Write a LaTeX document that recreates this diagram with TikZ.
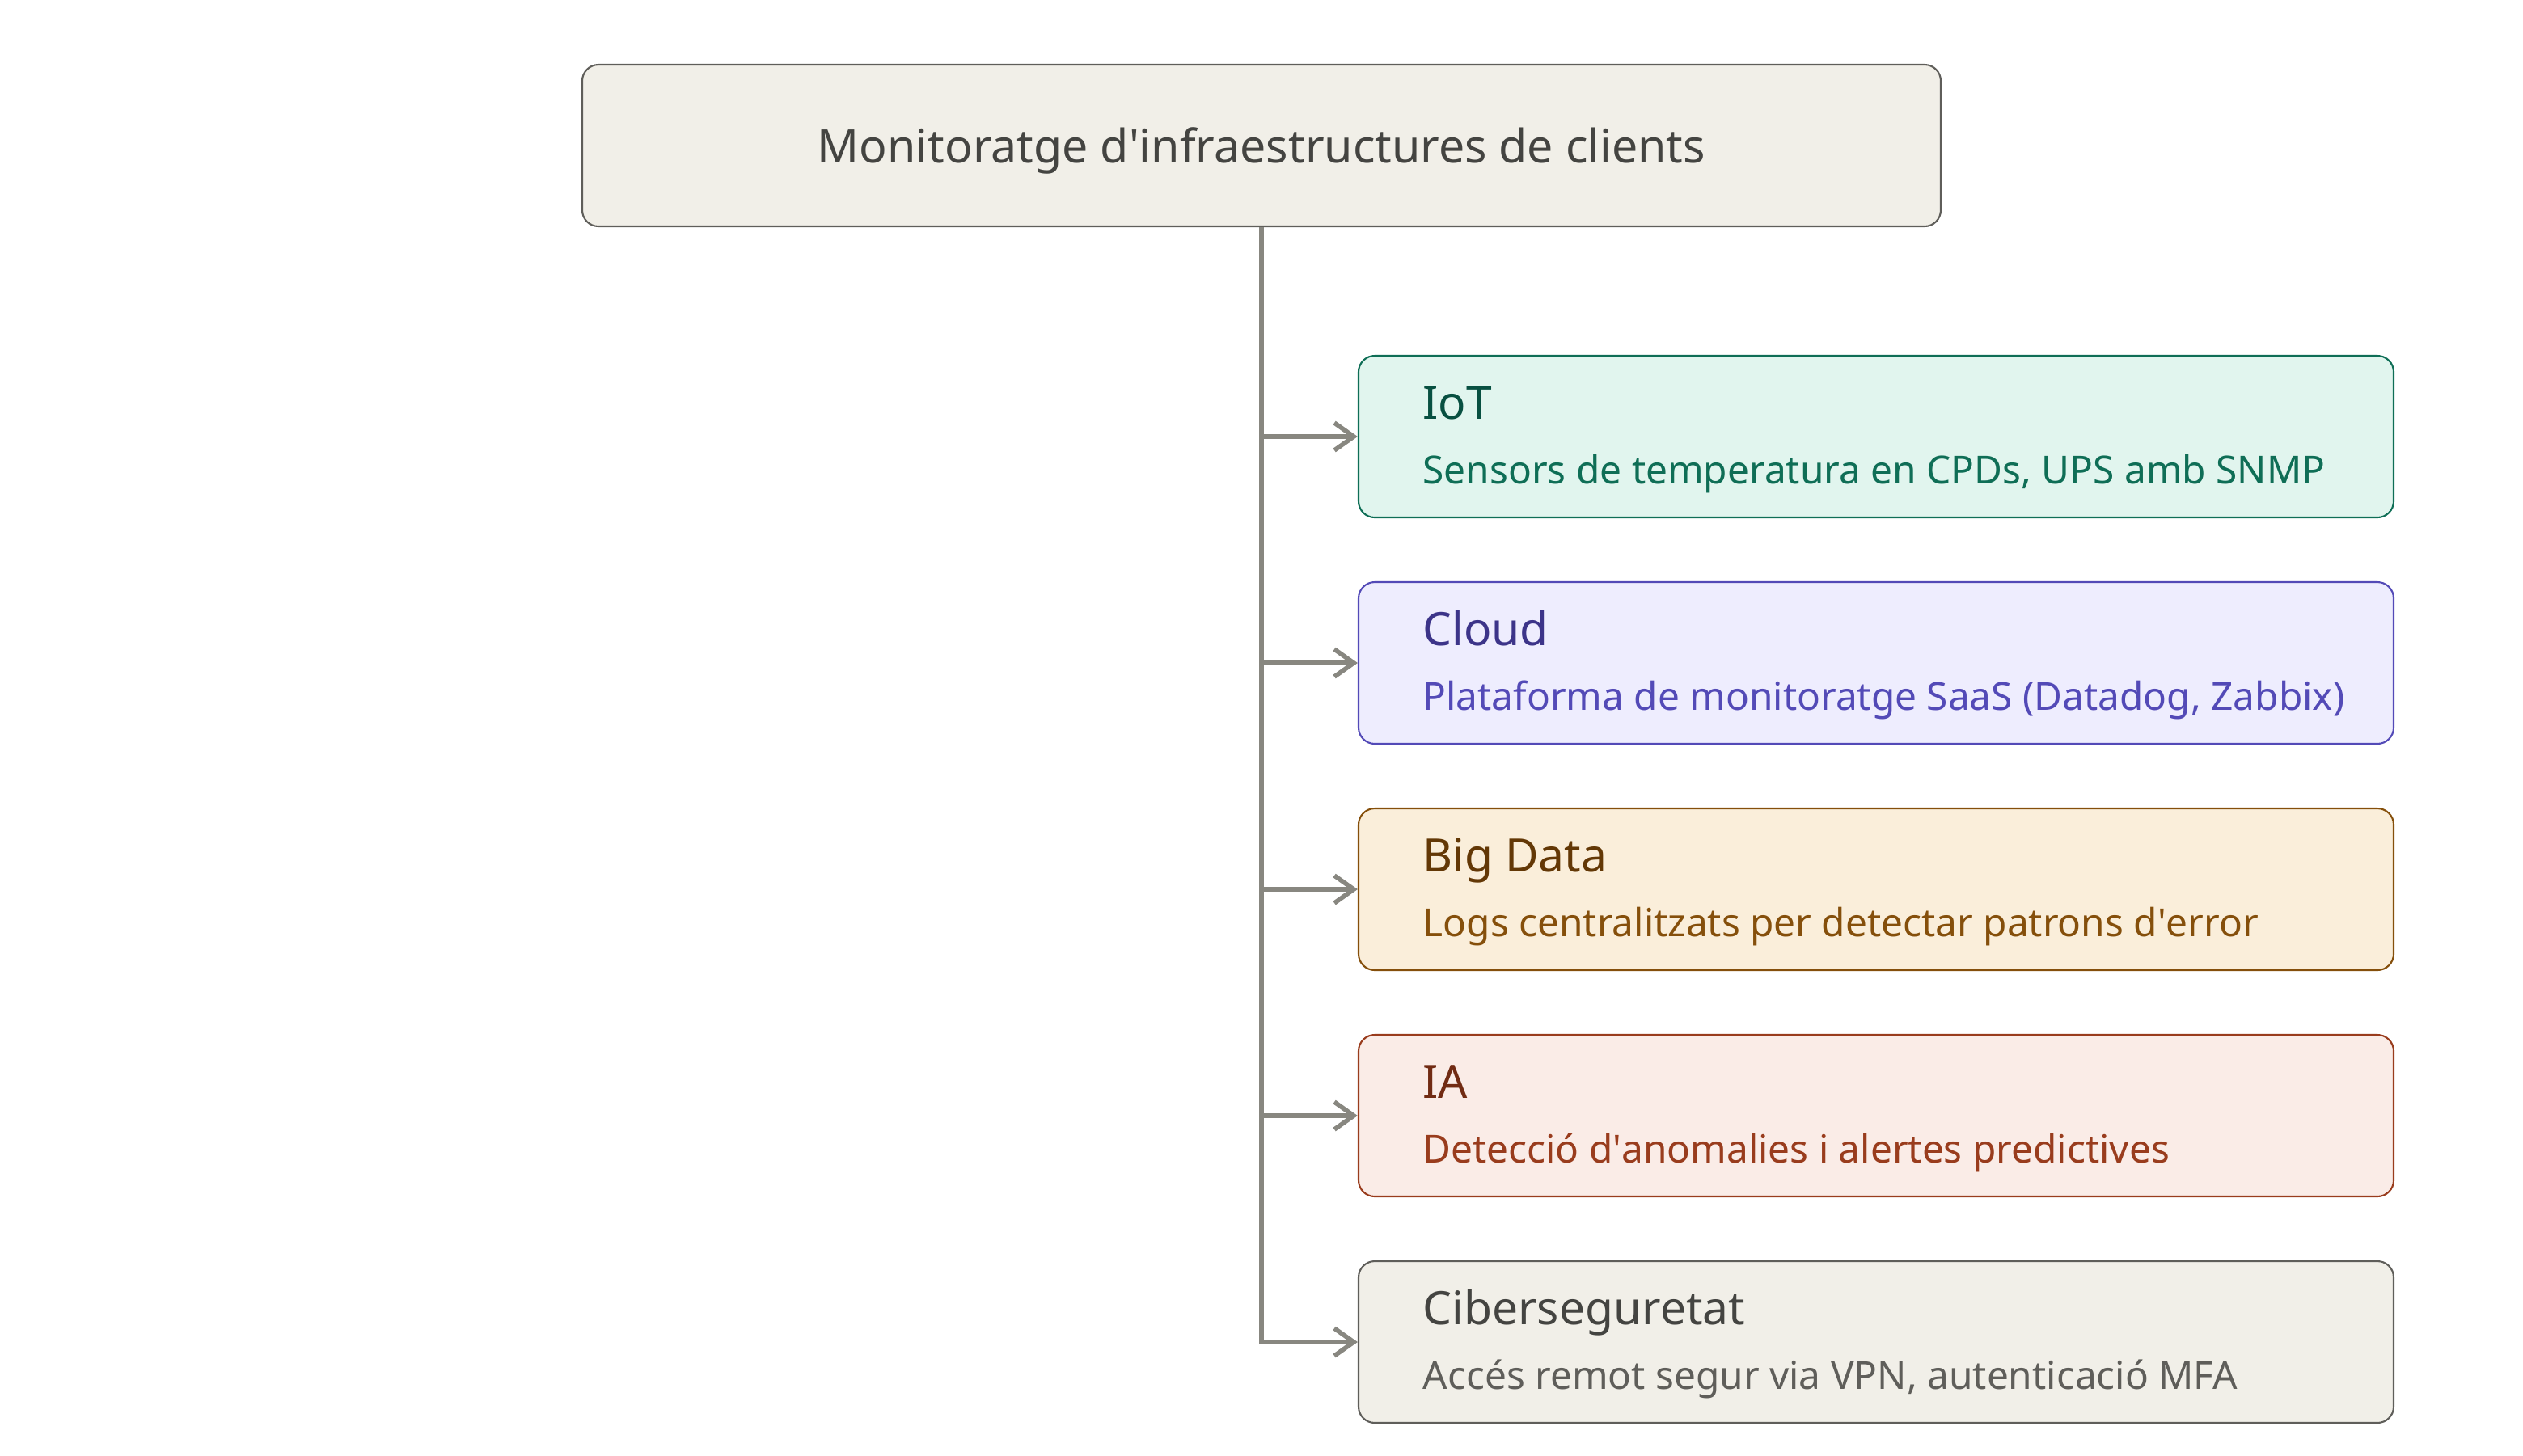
\documentclass[tikz,border=0pt]{standalone}
\usepackage{fontspec}
\setmainfont{Noto Sans}
\usepackage{tikz}
\usetikzlibrary{arrows.meta,positioning,calc}
\definecolor{RootFill}{HTML}{F1EFE8}
\definecolor{RootLine}{HTML}{5F5E5A}
\definecolor{RootText}{HTML}{444441}
\definecolor{LinkGray}{HTML}{888780}
\definecolor{IotFill}{HTML}{E1F5EE}
\definecolor{IotLine}{HTML}{0F6E56}
\definecolor{IotHead}{HTML}{085041}
\definecolor{CloudFill}{HTML}{EEEDFE}
\definecolor{CloudLine}{HTML}{534AB7}
\definecolor{CloudHead}{HTML}{3C3489}
\definecolor{DataFill}{HTML}{FAEEDA}
\definecolor{DataLine}{HTML}{854F0B}
\definecolor{DataHead}{HTML}{633806}
\definecolor{AiFill}{HTML}{FAECE7}
\definecolor{AiLine}{HTML}{993C1D}
\definecolor{AiHead}{HTML}{712B13}
\newcommand{\apos}{\textquotesingle}
\begin{document}
\begin{tikzpicture}[
  root/.style={draw=RootLine,fill=RootFill,rounded corners=0.2cm,line width=0.6pt,
    minimum width=16.8cm,minimum height=2cm,text=RootText,
    text height=12.3pt,text depth=0pt,font=\fontsize{16.3}{19}\selectfont},
  leaf/.style={rounded corners=0.2cm,line width=0.6pt,
    minimum width=12.8cm,minimum height=2cm},
  head/.style={anchor=base west,inner sep=0pt,font=\fontsize{16.2}{19}\selectfont},
  note/.style={anchor=base west,inner sep=0pt,font=\fontsize{13.6}{16}\selectfont},
  link/.style={-{Straight Barb[length=2.4mm,width=3.4mm]},line width=1.6pt,draw=LinkGray}
]
\useasboundingbox (0,0) rectangle (31.2,-18);
\node[root] (root) at (15.6,-1.8) {Monitoratge d\apos infraestructures de clients};

\node[leaf,draw=IotLine,fill=IotFill] (iot) at (23.2,-5.4) {};
\node[head,text=IotHead] (iot-h) at ($(iot.north west)+(0.8,-0.8)$) {IoT};
\node[note,text=IotLine] (iot-n) at ($(iot.north west)+(0.8,-1.6)$) {Sensors de temperatura en CPDs, UPS amb SNMP};

\node[leaf,draw=CloudLine,fill=CloudFill] (cloud) at (23.2,-8.2) {};
\node[head,text=CloudHead] (cloud-h) at ($(cloud.north west)+(0.8,-0.8)$) {Cloud};
\node[note,text=CloudLine] (cloud-n) at ($(cloud.north west)+(0.8,-1.6)$) {Plataforma de monitoratge SaaS (Datadog, Zabbix)};

\node[leaf,draw=DataLine,fill=DataFill] (data) at (23.2,-11.0) {};
\node[head,text=DataHead] (data-h) at ($(data.north west)+(0.8,-0.8)$) {Big Data};
\node[note,text=DataLine] (data-n) at ($(data.north west)+(0.8,-1.6)$) {Logs centralitzats per detectar patrons d\apos error};

\node[leaf,draw=AiLine,fill=AiFill] (ai) at (23.2,-13.8) {};
\node[head,text=AiHead] (ai-h) at ($(ai.north west)+(0.8,-0.8)$) {IA};
\node[note,text=AiLine] (ai-n) at ($(ai.north west)+(0.8,-1.6)$) {Detecció d\apos anomalies i alertes predictives};

\node[leaf,draw=RootLine,fill=RootFill] (cyber) at (23.2,-16.6) {};
\node[head,text=RootText] (cyber-h) at ($(cyber.north west)+(0.8,-0.8)$) {Ciberseguretat};
\node[note,text=RootLine] (cyber-n) at ($(cyber.north west)+(0.8,-1.6)$) {Accés remot segur via VPN, autenticació MFA};

% trunk and branches
\draw[link] (root.south) |- (cyber.west);
\draw[link] (root.south |- iot.west) -- (iot.west);
\draw[link] (root.south |- cloud.west) -- (cloud.west);
\draw[link] (root.south |- data.west) -- (data.west);
\draw[link] (root.south |- ai.west) -- (ai.west);
\end{tikzpicture}
\end{document}
